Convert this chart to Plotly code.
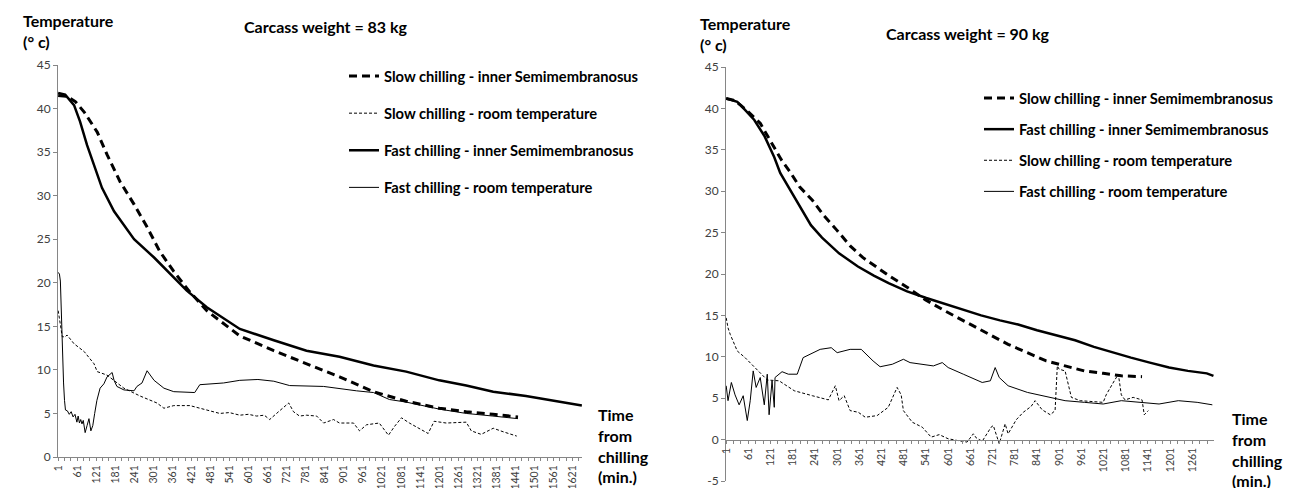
import plotly.graph_objects as go

W, H = 1292, 488

# ---------------- Left panel: carcass weight = 83 kg ----------------
L_SLOW_INNER_T = [1, 29, 55, 83, 124, 155, 196, 240, 281, 321, 365, 412, 469, 522, 573, 680, 783, 887, 994, 1097, 1201, 1286, 1370, 1449]
L_SLOW_INNER_V = [41.5, 41.4, 40.8, 39.6, 37.3, 34.7, 31.6, 29.0, 26.4, 23.6, 21.3, 19.1, 16.8, 15.3, 13.9, 12.2, 10.7, 9.2, 7.5, 6.4, 5.6, 5.2, 4.9, 4.6]

L_FAST_INNER_T = [1, 23, 51, 70, 92, 114, 139, 177, 240, 303, 353, 406, 469, 522, 573, 680, 783, 887, 994, 1097, 1201, 1286, 1371, 1474, 1578, 1650]
L_FAST_INNER_V = [41.8, 41.6, 40.4, 38.5, 35.8, 33.6, 30.9, 28.2, 25.0, 22.9, 21.0, 19.1, 17.2, 15.9, 14.7, 13.4, 12.2, 11.5, 10.5, 9.8, 8.8, 8.2, 7.5, 7.0, 6.4, 5.9]

L_SLOW_ROOM_T = [1, 4, 7, 14, 23, 29, 51, 83, 114, 124, 155, 208, 259, 312, 334, 365, 416, 469, 510, 540, 573, 600, 626, 650, 667, 695, 727, 742, 761, 783, 815, 837, 868, 887, 931, 950, 972, 1012, 1041, 1060, 1082, 1107, 1151, 1166, 1185, 1223, 1286, 1302, 1333, 1371, 1402, 1433, 1445]
L_SLOW_ROOM_V = [16.8, 16.1, 15.0, 13.8, 13.8, 14.0, 13.0, 12.1, 10.7, 9.8, 9.4, 7.9, 7.0, 6.2, 5.6, 5.9, 5.9, 5.4, 5.0, 5.1, 4.8, 4.9, 4.7, 4.8, 4.3, 5.2, 6.2, 5.2, 4.7, 4.8, 4.7, 3.9, 4.3, 3.9, 3.9, 3.0, 3.7, 3.9, 2.5, 3.5, 4.5, 3.9, 3.0, 2.7, 4.1, 3.9, 4.0, 3.0, 2.6, 3.3, 2.9, 2.5, 2.4]

L_FAST_ROOM_T = [1, 5, 8, 11, 14, 18, 21, 24, 30, 36, 42, 48, 54, 60, 64, 68, 72, 76, 80, 86, 92, 98, 104, 110, 116, 123, 133, 145, 155, 165, 171, 177, 186, 208, 240, 249, 265, 281, 303, 334, 365, 431, 447, 522, 573, 630, 680, 730, 837, 940, 994, 1044, 1097, 1201, 1286, 1370, 1449]
L_FAST_ROOM_V = [21.2, 21.0, 20.2, 16.0, 12.0, 8.5, 6.5, 5.4, 5.3, 4.9, 5.2, 4.6, 4.9, 4.0, 4.7, 3.9, 4.3, 3.8, 4.2, 2.8, 3.6, 4.4, 3.0, 3.6, 5.0, 6.5, 7.9, 8.4, 9.2, 9.5, 9.7, 8.8, 8.1, 7.7, 7.6, 8.1, 8.5, 9.9, 8.8, 7.9, 7.5, 7.4, 8.3, 8.5, 8.8, 8.9, 8.7, 8.2, 8.1, 7.6, 7.4, 6.6, 6.3, 5.5, 5.0, 4.7, 4.4]

# ---------------- Right panel: carcass weight = 90 kg ----------------
R_SLOW_INNER_T = [1, 20, 40, 58, 93, 128, 150, 174, 200, 234, 266, 300, 336, 370, 401, 444, 490, 539, 590, 663, 715, 763, 815, 866, 917, 969, 1020, 1069, 1125]
R_SLOW_INNER_V = [41.2, 41.0, 40.4, 39.7, 38.2, 35.5, 33.8, 32.3, 30.5, 28.9, 27.0, 25.3, 23.4, 22.0, 21.0, 19.7, 18.4, 16.9, 15.6, 13.9, 12.7, 11.5, 10.5, 9.5, 8.9, 8.3, 8.0, 7.7, 7.6]

R_FAST_INNER_T = [1, 31, 50, 77, 104, 131, 147, 174, 204, 230, 260, 306, 357, 400, 440, 490, 542, 590, 638, 690, 741, 790, 841, 893, 944, 995, 1047, 1095, 1146, 1198, 1249, 1300, 1318]
R_FAST_INNER_V = [41.2, 40.8, 39.9, 38.6, 36.7, 34.1, 32.2, 30.1, 27.8, 25.9, 24.4, 22.5, 20.9, 19.8, 18.9, 17.9, 17.1, 16.4, 15.7, 15.0, 14.4, 13.9, 13.2, 12.6, 12.0, 11.2, 10.5, 9.9, 9.3, 8.7, 8.3, 8.0, 7.7]

R_SLOW_ROOM_T = [1, 6, 12, 31, 52, 82, 112, 144, 185, 234, 277, 296, 306, 320, 336, 358, 377, 409, 439, 463, 474, 480, 504, 531, 555, 577, 601, 625, 652, 669, 677, 693, 717, 723, 739, 755, 763, 785, 804, 825, 836, 855, 877, 890, 896, 901, 917, 934, 958, 1020, 1028, 1050, 1061, 1069, 1079, 1101, 1125, 1131, 1142]
R_SLOW_ROOM_V = [14.7, 13.5, 12.7, 10.7, 9.9, 8.5, 7.2, 7.1, 5.9, 5.3, 4.8, 6.5, 4.7, 5.3, 3.5, 3.3, 2.7, 2.9, 3.9, 6.3, 5.4, 3.5, 2.1, 1.5, 0.3, 0.6, 0.1, -0.1, -0.3, 0.7, 0.2, -0.2, 1.5, 1.7, -0.5, 1.9, 0.7, 2.4, 3.3, 4.0, 4.7, 3.6, 3.0, 3.5, 8.9, 8.5, 8.3, 5.1, 4.7, 4.5, 5.4, 7.1, 7.9, 5.4, 4.8, 5.1, 4.8, 3.0, 3.5]

R_FAST_ROOM_T = [1, 6, 15, 25, 36, 47, 58, 66, 74, 82, 93, 104, 112, 117, 125, 131, 133, 152, 169, 193, 209, 255, 285, 301, 336, 366, 398, 417, 450, 480, 498, 561, 585, 601, 642, 693, 715, 728, 739, 763, 815, 866, 917, 969, 1020, 1069, 1120, 1171, 1223, 1274, 1315]
R_FAST_ROOM_V = [6.5, 4.7, 6.9, 5.4, 4.2, 5.3, 2.3, 4.7, 8.3, 6.3, 7.5, 4.2, 7.9, 3.0, 7.1, 3.9, 7.5, 8.2, 7.9, 7.9, 9.9, 10.9, 11.1, 10.5, 10.9, 10.9, 9.5, 8.8, 9.1, 9.7, 9.3, 8.9, 9.3, 8.7, 7.9, 6.9, 7.1, 8.7, 7.5, 6.5, 5.7, 5.2, 4.7, 4.5, 4.3, 4.7, 4.5, 4.3, 4.7, 4.5, 4.2]

# ---------------- Axis ticks ----------------
LEFT_TICK_LABELS = ["1", "61", "121", "181", "241", "301", "361", "421", "481", "541", "601", "661", "721", "781",
                    "841", "901", "961", "1021", "1081", "1141", "1201", "1261", "1321", "1381", "1441", "1501", "1561", "1621"]
RIGHT_TICK_LABELS = ["1", "61", "121", "181", "241", "301", "361", "421", "481", "541", "601", "661", "721", "781",
                     "841", "901", "961", "1021", "1081", "1141", "1201", "1261"]
Y_TICKS_LEFT = [0, 5, 10, 15, 20, 25, 30, 35, 40, 45]
Y_TICKS_RIGHT = [-5, 0, 5, 10, 15, 20, 25, 30, 35, 40, 45]
Y_TICKS_RIGHT_LABELS = ["-5", "0", "5", "10", "15", "20", "25", "30", "35", "40", "45"]

LEGEND_NAMES = {
    "slow_inner": "Slow chilling - inner Semimembranosus",
    "slow_room": "Slow chilling - room temperature",
    "fast_inner": "Fast chilling - inner Semimembranosus",
    "fast_room": "Fast chilling - room temperature",
}
STYLES = {
    "slow_inner": dict(color="black", width=3, dash="8px,5px"),
    "slow_room": dict(color="black", width=1, dash="3px,2px"),
    "fast_inner": dict(color="black", width=2.5),
    "fast_room": dict(color="black", width=1),
}

FONT = "Lato"
AXIS_GRAY = "#868686"
TICK_COLOR = "#404040"


def fx(px):
    return px / W


def fy(py):
    return 1 - py / H


def minor_ticks(labels, step_minor=20, step_major=60):
    last = int(labels[-1]) + 2 * step_minor
    vals, texts = [], []
    t = 1
    while t <= last:
        vals.append(t)
        texts.append(str(t) if (t - 1) % step_major == 0 and str(t) in labels else "")
        t += step_minor
    return vals, texts


fig = go.Figure()

left_series = [
    ("slow_inner", L_SLOW_INNER_T, L_SLOW_INNER_V),
    ("slow_room", L_SLOW_ROOM_T, L_SLOW_ROOM_V),
    ("fast_inner", L_FAST_INNER_T, L_FAST_INNER_V),
    ("fast_room", L_FAST_ROOM_T, L_FAST_ROOM_V),
]
right_series = [
    ("slow_inner", R_SLOW_INNER_T, R_SLOW_INNER_V),
    ("fast_inner", R_FAST_INNER_T, R_FAST_INNER_V),
    ("slow_room", R_SLOW_ROOM_T, R_SLOW_ROOM_V),
    ("fast_room", R_FAST_ROOM_T, R_FAST_ROOM_V),
]

for i, (key, t, v) in enumerate(left_series):
    fig.add_trace(go.Scatter(x=t, y=v, mode="lines", name=LEGEND_NAMES[key], line=STYLES[key],
                             xaxis="x", yaxis="y", legend="legend", legendgroup="L%d" % i,
                             hoverinfo="skip"))
for i, (key, t, v) in enumerate(right_series):
    fig.add_trace(go.Scatter(x=t, y=v, mode="lines", name=LEGEND_NAMES[key], line=STYLES[key],
                             xaxis="x2", yaxis="y2", legend="legend2", legendgroup="R%d" % i,
                             hoverinfo="skip"))

lvals, ltexts = minor_ticks(LEFT_TICK_LABELS)
rvals, rtexts = minor_ticks(RIGHT_TICK_LABELS)

# pixel geometry of the two plot areas
L_X0, L_X1, L_Y0, L_Y1 = 50, 574, 449, 57     # left: x from..to, y bottom..top
R_X0, R_X1, R_Y0, R_Y1 = 718, 1206, 473, 59   # right

common_x = dict(showgrid=False, zeroline=False, showline=True, linecolor=AXIS_GRAY, linewidth=1,
                ticks="outside", ticklen=3, tickcolor=AXIS_GRAY, tickangle=-90,
                tickfont=dict(family=FONT, size=10.5, color=TICK_COLOR), automargin=False)
common_y = dict(showgrid=False, zeroline=False, showline=True, linecolor=AXIS_GRAY, linewidth=1,
                ticks="outside", ticklen=4, tickcolor=AXIS_GRAY,
                tickfont=dict(family=FONT, size=12, color=TICK_COLOR), automargin=False)

r_ydom = [fy(R_Y0), fy(R_Y1)]
r_xpos = r_ydom[0] + (0 - (-5)) / (45 - (-5)) * (r_ydom[1] - r_ydom[0])

legend_font = dict(family=FONT, size=14.7, color="black", weight="bold")

fig.update_layout(
    width=W, height=H,
    margin=dict(l=0, r=0, t=0, b=0),
    paper_bgcolor="white", plot_bgcolor="white",
    font=dict(family=FONT, color="black"),
    xaxis=dict(domain=[fx(L_X0), fx(L_X1)], range=[0.5, 1650.5], anchor="y",
               tickmode="array", tickvals=lvals, ticktext=ltexts, **common_x),
    yaxis=dict(domain=[fy(L_Y0), fy(L_Y1)], range=[0, 45], anchor="x",
               tickmode="array", tickvals=Y_TICKS_LEFT, **common_y),
    xaxis2=dict(domain=[fx(R_X0), fx(R_X1)], range=[0.5, 1319.5], anchor="free", position=r_xpos,
                tickmode="array", tickvals=rvals, ticktext=rtexts, **common_x),
    yaxis2=dict(domain=r_ydom, range=[-5, 45], anchor="x2",
                tickmode="array", tickvals=Y_TICKS_RIGHT, ticktext=Y_TICKS_RIGHT_LABELS, **common_y),
    legend=dict(x=fx(336), y=fy(52), xanchor="left", yanchor="top", font=legend_font,
                bgcolor="rgba(0,0,0,0)", traceorder="grouped", tracegroupgap=15, itemwidth=30),
    legend2=dict(x=fx(971), y=fy(74), xanchor="left", yanchor="top", font=legend_font,
                 bgcolor="rgba(0,0,0,0)", traceorder="grouped", tracegroupgap=9, itemwidth=30),
    showlegend=True,
)

ann_font = dict(family=FONT, size=16, color="black")
annotations = [
    dict(text="<b>Temperature</b><br><b>(° c)</b>", x=fx(13), y=fy(1), xanchor="left", yanchor="top", align="left"),
    dict(text="<b>Temperature</b><br><b>(° c)</b>", x=fx(690), y=fy(4), xanchor="left", yanchor="top", align="left"),
    dict(text="<b>Carcass weight = 83 kg</b>", x=fx(318), y=fy(19), xanchor="center", yanchor="middle"),
    dict(text="<b>Carcass weight = 90 kg</b>", x=fx(960), y=fy(25), xanchor="center", yanchor="middle"),
    dict(text="<b>Time</b><br><b>from</b><br><b>chilling</b><br><b>(min.)</b>", x=fx(588), y=fy(395),
         xanchor="left", yanchor="top", align="left"),
    dict(text="<b>Time</b><br><b>from</b><br><b>chilling</b><br><b>(min.)</b>", x=fx(1222), y=fy(399),
         xanchor="left", yanchor="top", align="left"),
]
for a in annotations:
    a.update(xref="paper", yref="paper", showarrow=False, font=ann_font)
fig.update_layout(annotations=annotations)

fig.write_html("out.html")
